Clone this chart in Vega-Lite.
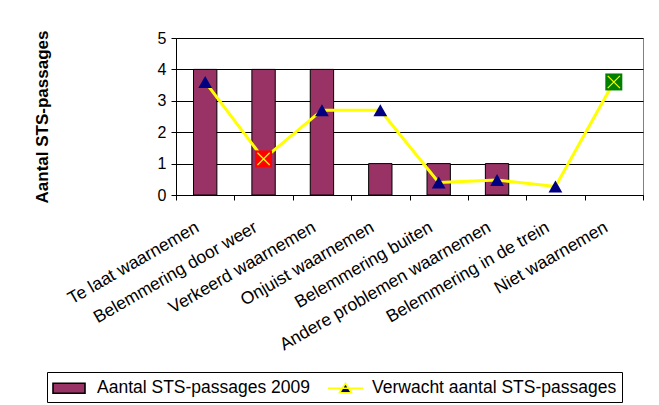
{
  "$schema": "https://vega.github.io/schema/vega-lite/v6.json",
  "width": 467,
  "height": 157,
  "autosize": {"type": "none"},
  "padding": {"left": 176, "top": 38, "right": 16, "bottom": 210},
  "background": "#FFFFFF",
  "config": {
    "font": "Liberation Sans",
    "view": {"fill": "#C0C0C0", "stroke": "#808080", "strokeWidth": 1},
    "axis": {"labelColor": "#000000", "titleColor": "#000000", "domainColor": "#000000", "tickColor": "#000000", "labelFont": "Liberation Sans", "titleFont": "Liberation Sans"},
    "axisY": {"values": [0, 1, 2, 3, 4, 5], "title": "Aantal STS-passages", "titleFontSize": 17, "titleFontWeight": "bold", "titlePadding": 106, "labelFontSize": 16, "labelPadding": 5, "tickSize": 5, "grid": true, "gridColor": "#000000", "gridWidth": 1, "gridOpacity": 1, "domain": true},
    "legend": {"symbolStrokeWidth": 1.6, "symbolOpacity": 1}
  },
  "data": {
    "values": [
      {"oorzaak": "Te laat waarnemen", "aantal": 4, "verwacht": 3.6, "afwijking": "normaal"},
      {"oorzaak": "Belemmering door weer", "aantal": 4, "verwacht": 1.15, "afwijking": "meer"},
      {"oorzaak": "Verkeerd waarnemen", "aantal": 4, "verwacht": 2.7, "afwijking": "normaal"},
      {"oorzaak": "Onjuist waarnemen", "aantal": 1, "verwacht": 2.7, "afwijking": "normaal"},
      {"oorzaak": "Belemmering buiten", "aantal": 1, "verwacht": 0.4, "afwijking": "normaal"},
      {"oorzaak": "Andere problemen waarnemen", "aantal": 1, "verwacht": 0.48, "afwijking": "normaal"},
      {"oorzaak": "Belemmering in de trein", "aantal": 0, "verwacht": 0.27, "afwijking": "normaal"},
      {"oorzaak": "Niet waarnemen", "aantal": 0, "verwacht": 3.6, "afwijking": "minder"}
    ]
  },
  "resolve": {"axis": {"x": "independent"}},
  "layer": [
    {
      "transform": [{"filter": "datum.aantal > 0"}],
      "mark": {"type": "bar", "fill": "#993366", "stroke": "#000000", "strokeWidth": 1, "opacity": 1},
      "encoding": {
        "x": {
          "field": "oorzaak", "type": "nominal", "sort": null,
          "scale": {"paddingInner": 0.6, "paddingOuter": 0.3},
          "axis": {"orient": "bottom", "labels": false, "title": null, "ticks": true, "tickSize": 5, "tickWidth": 1, "bandPosition": 2.5, "tickOffset": -17.5125, "tickExtra": true, "domain": true, "domainWidth": 1, "grid": false}
        },
        "y": {
          "field": "aantal", "type": "quantitative",
          "scale": {"domain": [0, 5], "nice": false, "zero": true},
          "axis": {"title": "Aantal STS-passages"}
        }
      }
    },
    {
      "mark": {"type": "line", "stroke": "#FFFF00", "strokeWidth": 3},
      "encoding": {
        "x": {
          "field": "oorzaak", "type": "nominal", "sort": null,
          "axis": {"orient": "bottom", "title": null, "ticks": false, "domain": false, "grid": false, "labelAngle": -30, "labelAlign": "right", "labelBaseline": "top", "labelPadding": 23, "labelOffset": -12, "labelFontSize": 17.5, "labelLimit": 400, "labelOverlap": false, "labelBound": false}
        },
        "y": {"field": "verwacht", "type": "quantitative", "axis": {"title": "Aantal STS-passages"}}
      }
    },
    {
      "transform": [{"filter": "datum.afwijking === 'normaal'"}],
      "mark": {"type": "point", "shape": "triangle-up", "filled": true, "color": "#000080", "size": 190, "opacity": 1},
      "encoding": {
        "x": {"field": "oorzaak", "type": "nominal", "sort": null, "axis": null},
        "y": {"field": "verwacht", "type": "quantitative", "axis": {"title": "Aantal STS-passages"}}
      }
    },
    {
      "transform": [{"filter": "datum.afwijking !== 'normaal'"}],
      "mark": {"type": "point", "shape": "square", "filled": true, "size": 289, "opacity": 1},
      "encoding": {
        "x": {"field": "oorzaak", "type": "nominal", "sort": null, "axis": null},
        "y": {"field": "verwacht", "type": "quantitative", "axis": {"title": "Aantal STS-passages"}},
        "color": {"field": "afwijking", "type": "nominal", "scale": {"domain": ["meer", "minder"], "range": ["#FF0000", "#008000"]}, "legend": null}
      }
    },
    {
      "transform": [{"filter": "datum.afwijking !== 'normaal'"}],
      "mark": {"type": "point", "shape": "M-0.72,-0.72L0.72,0.72M-0.72,0.72L0.72,-0.72", "filled": false, "stroke": "#FFFF00", "strokeWidth": 1.2, "size": 289, "opacity": 1},
      "encoding": {
        "x": {"field": "oorzaak", "type": "nominal", "sort": null, "axis": null},
        "y": {"field": "verwacht", "type": "quantitative", "axis": {"title": "Aantal STS-passages"}}
      }
    },
    {
      "transform": [{"filter": "false"}],
      "mark": {"type": "point", "filled": true, "opacity": 1},
      "encoding": {
        "shape": {
          "datum": "Aantal STS-passages 2009", "type": "nominal",
          "scale": {"domain": ["Aantal STS-passages 2009", "Verwacht aantal STS-passages"], "range": ["M-1,-0.5H2.2V0.5H-1Z", "M-1,0H2.5M0.15,0.45L0.75,-0.5L1.35,0.45Z"]},
          "legend": {
            "title": null, "orient": "none", "legendX": -129, "legendY": 334, "direction": "horizontal",
            "strokeColor": "#000000", "fillColor": "#FFFFFF", "padding": 5,
            "labelFontSize": 17.5, "labelColor": "#000000", "labelFont": "Liberation Sans", "labelOffset": 23, "columnPadding": 13, "labelLimit": 400,
            "symbolSize": 400
          }
        },
        "fill": {
          "datum": "Aantal STS-passages 2009", "type": "nominal",
          "scale": {"domain": ["Aantal STS-passages 2009", "Verwacht aantal STS-passages"], "range": ["#993366", "#000080"]},
          "legend": {
            "title": null, "orient": "none", "legendX": -129, "legendY": 334, "direction": "horizontal",
            "strokeColor": "#000000", "fillColor": "#FFFFFF", "padding": 5,
            "labelFontSize": 17.5, "labelColor": "#000000", "labelFont": "Liberation Sans", "labelOffset": 23, "columnPadding": 13, "labelLimit": 400,
            "symbolSize": 400
          }
        },
        "stroke": {
          "datum": "Aantal STS-passages 2009", "type": "nominal",
          "scale": {"domain": ["Aantal STS-passages 2009", "Verwacht aantal STS-passages"], "range": ["#000000", "#FFFF00"]},
          "legend": {
            "title": null, "orient": "none", "legendX": -129, "legendY": 334, "direction": "horizontal",
            "strokeColor": "#000000", "fillColor": "#FFFFFF", "padding": 5,
            "labelFontSize": 17.5, "labelColor": "#000000", "labelFont": "Liberation Sans", "labelOffset": 23, "columnPadding": 13, "labelLimit": 400,
            "symbolSize": 400
          }
        }
      }
    }
  ]
}
